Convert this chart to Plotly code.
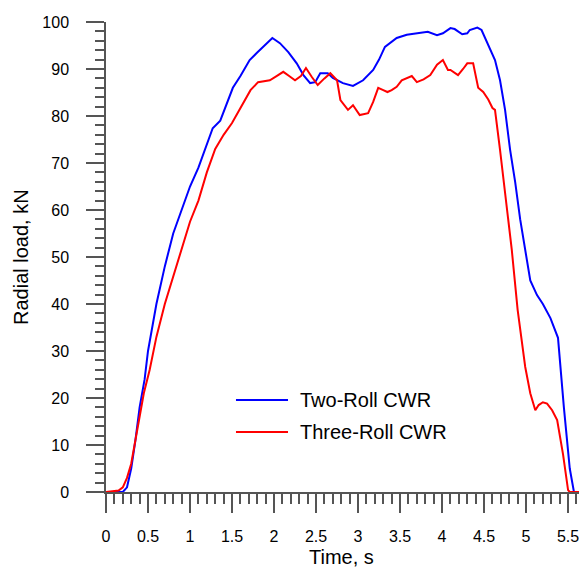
import plotly.graph_objects as go

# Two-Roll CWR (blue)
two_t = [0, 0.2, 0.25, 0.3, 0.35, 0.4, 0.46, 0.5, 0.6, 0.7, 0.8, 0.9, 1.0, 1.1, 1.2, 1.27,
         1.36, 1.45, 1.51, 1.6, 1.71, 1.8, 1.92, 1.98, 2.07, 2.17, 2.27, 2.35, 2.43, 2.49,
         2.55, 2.64, 2.7, 2.82, 2.94, 3.06, 3.18, 3.25, 3.32, 3.46, 3.58, 3.7, 3.83, 3.94,
         4.01, 4.1, 4.15, 4.24, 4.3, 4.33, 4.42, 4.47, 4.55, 4.63, 4.69, 4.75, 4.81, 4.87,
         4.93, 4.99, 5.05, 5.13, 5.2, 5.29, 5.38, 5.45, 5.52, 5.57, 5.63]
two_f = [0, 0, 1, 5, 11, 18, 24, 30, 40, 48, 55, 60, 65, 69, 74, 77.4,
         79, 83, 86, 88.5, 91.9, 93.5, 95.7, 96.6, 95.5, 93.6, 91.2, 88.7, 87, 87.2,
         89.1, 89.1, 88.1, 87, 86.4, 87.6, 89.8, 92, 94.7, 96.6, 97.3, 97.6, 97.9, 97.2,
         97.6, 98.7, 98.5, 97.4, 97.6, 98.3, 98.8, 98.3, 95.1, 91.9, 87.6, 81.3, 72.8, 66,
         58, 51.5, 45, 41.9, 40, 37, 32.8, 18, 5, 0, 0]

# Three-Roll CWR (red)
three_t = [0, 0.15, 0.2, 0.25, 0.3, 0.35, 0.4, 0.45, 0.52, 0.6, 0.7, 0.8, 0.9, 1.0, 1.1,
           1.2, 1.3, 1.4, 1.5, 1.63, 1.72, 1.81, 1.95, 2.03, 2.11, 2.18, 2.25, 2.32, 2.38,
           2.45, 2.52, 2.6, 2.67, 2.75, 2.79, 2.88, 2.94, 3.02, 3.12, 3.18, 3.24, 3.3, 3.35,
           3.4, 3.46, 3.52, 3.58, 3.64, 3.7, 3.78, 3.86, 3.94, 4.01, 4.07, 4.1, 4.19, 4.25,
           4.3, 4.37, 4.43, 4.49, 4.55, 4.6, 4.63, 4.69, 4.76, 4.83, 4.9, 4.99, 5.05, 5.11,
           5.15, 5.2, 5.25, 5.31, 5.37, 5.44, 5.5, 5.52, 5.63]
three_f = [0, 0.3, 1, 3, 6, 11, 16, 21, 26, 33, 40, 46, 52, 57.5, 62,
           68, 73, 76, 78.5, 82.5, 85.5, 87.2, 87.6, 88.5, 89.4, 88.5, 87.6, 88.5, 90.2,
           88.3, 86.6, 88, 89.1, 87.6, 83.4, 81.3, 82.3, 80.2, 80.6, 83, 86, 85.5, 85.1,
           85.5, 86.2, 87.6, 88, 88.5, 87.2, 87.8, 88.7, 90.9, 91.9, 89.8, 89.8, 88.7, 90,
           91.2, 91.2, 86, 85.1, 83.5, 81.7, 81.3, 72.8, 62, 51.5, 38.7, 26.6, 21, 17.4,
           18.5, 19.1, 18.8, 17.4, 15.3, 8, 0.4, 0, 0]

series_names = ["Two-Roll CWR", "Three-Roll CWR"]
series_colors = ["#0000ff", "#ff0000"]

x_ticks = [0, 0.5, 1, 1.5, 2, 2.5, 3, 3.5, 4, 4.5, 5, 5.5]
x_labels = ["0", "0.5", "1", "1.5", "2", "2.5", "3", "3.5", "4", "4.5", "5", "5.5"]
y_ticks = [0, 10, 20, 30, 40, 50, 60, 70, 80, 90, 100]

FONT = "Arial, Liberation Sans, sans-serif"
AX = "#555555"

fig = go.Figure()
for t, f, nm, col in [(two_t, two_f, series_names[0], series_colors[0]),
                      (three_t, three_f, series_names[1], series_colors[1])]:
    fig.add_trace(go.Scatter(x=t, y=f, mode="lines", name=nm,
                             line=dict(color=col, width=2), showlegend=False))

# manual legend (line samples + labels)
legend_y = [0.1957, 0.1277]
shapes = []
annotations = []
for nm, col, ly in zip(series_names, series_colors, legend_y):
    shapes.append(dict(type="line", xref="paper", yref="paper",
                       x0=0.2748, x1=0.3848, y0=ly, y1=ly,
                       line=dict(color=col, width=2)))
    annotations.append(dict(xref="paper", yref="paper", x=0.406, y=ly,
                            xanchor="left", yanchor="middle", showarrow=False,
                            text=nm, font=dict(size=20, color="black")))

annotations.append(dict(xref="paper", yref="paper", x=-0.1797, y=0.5,
                        xanchor="center", yanchor="middle", showarrow=False,
                        textangle=-90, text="Radial load, kN",
                        font=dict(size=20, color="black")))
annotations.append(dict(xref="paper", yref="paper", x=0.498, y=-0.138,
                        xanchor="center", yanchor="middle", showarrow=False,
                        text="Time, s", font=dict(size=20, color="black")))

fig.update_layout(
    width=579, height=567,
    margin=dict(l=106, r=0, t=22, b=75),
    paper_bgcolor="white", plot_bgcolor="white",
    font=dict(family=FONT, size=16, color="black"),
    showlegend=False,
    shapes=shapes,
    annotations=annotations,
    xaxis=dict(range=[0, 5.63], showgrid=False, zeroline=False,
               showline=True, linecolor=AX, linewidth=1.5,
               tickmode="array", tickvals=x_ticks, ticktext=x_labels,
               ticks="outside", ticklen=19, tickwidth=1.5, tickcolor=AX,
               ticklabelstandoff=10, ticklabeloverflow="allow",
               minor=dict(dtick=0.1, ticks="outside", ticklen=10, tickwidth=1.5, tickcolor=AX)),
    yaxis=dict(range=[0, 100], showgrid=False, zeroline=False,
               showline=True, linecolor=AX, linewidth=1.5,
               tickmode="array", tickvals=y_ticks,
               ticks="outside", ticklen=18, tickwidth=1.5, tickcolor=AX,
               ticklabelstandoff=14,
               minor=dict(dtick=2, ticks="outside", ticklen=9, tickwidth=1.5, tickcolor=AX)),
)

fig.write_html("out.html")
